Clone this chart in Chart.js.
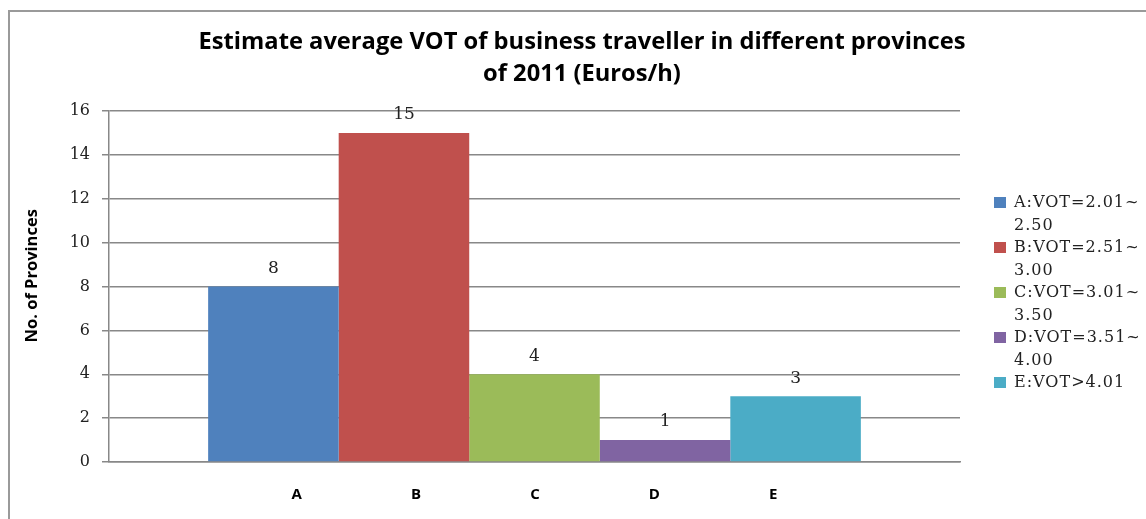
<!DOCTYPE html>
<html>
<head>
<meta charset="utf-8">
<script src="https://cdn.jsdelivr.net/npm/chart.js"></script>
<style>
  html, body { margin: 0; padding: 0; background: #fff; overflow: hidden; }
  #wrap { position: relative; width: 1146px; height: 519px; overflow: hidden; }
  #frame { position: absolute; left: 8px; top: 10px; width: 2000px; height: 1000px; border-left: 2px solid #9a9a9a; border-top: 2px solid #9a9a9a; pointer-events: none; }
  #legend { position: absolute; left: 994px; top: 191px; margin: 0; padding: 0; list-style: none; font: 16px "DejaVu Serif", serif; letter-spacing: 1px; line-height: 22.5px; color: #222; white-space: pre; }
  #legend li { position: relative; padding-left: 20px; }
  #legend span { position: absolute; left: 0; top: 6px; width: 12px; height: 11px; }
</style>
</head>
<body>
<div id="wrap">
  <canvas id="chart" width="1146" height="519"></canvas>
  <ul id="legend"></ul>
  <div id="frame"></div>
</div>
<script>
const categories = ["A", "B", "C", "D", "E"];
const provinces = [8, 15, 4, 1, 3];
const seriesNames = [
  "A:VOT=2.01~\n2.50",
  "B:VOT=2.51~\n3.00",
  "C:VOT=3.01~\n3.50",
  "D:VOT=3.51~\n4.00",
  "E:VOT>4.01"
];
const seriesColors = ["#4f81bd", "#c0504d", "#9bbb59", "#8064a2", "#4bacc6"];
const titleLines = [
  "Estimate average VOT of business traveller in different provinces",
  "of 2011 (Euros/h)"
];
const yTitle = "No. of Provinces";
const yMin = 0;
const yMax = 16;
const yStep = 2;

// excel put all five series in one category, the letters are just spaced out
const xLabel = categories.join(" ".repeat(28));

const datasets = categories.map((c, i) => ({
  label: seriesNames[i],
  data: [provinces[i]],
  backgroundColor: seriesColors[i],
  yAxisID: "y",
  barPercentage: 1,
  categoryPercentage: 0.767
}));

const valueLabels = {
  id: "valueLabels",
  afterDatasetsDraw(chart) {
    const ctx = chart.ctx;
    ctx.save();
    ctx.font = '17px "DejaVu Serif"';
    ctx.fillStyle = "#222";
    ctx.textAlign = "center";
    ctx.textBaseline = "middle";
    chart.data.datasets.forEach((ds, i) => {
      const bar = chart.getDatasetMeta(i).data[0];
      ctx.fillText(ds.data[0], bar.x, bar.y - 18);
    });
    ctx.restore();
  }
};

const chart = new Chart(document.getElementById("chart"), {
  type: "bar",
  data: { labels: [xLabel], datasets: datasets },
  plugins: [valueLabels],
  options: {
    responsive: false,
    animation: false,
    layout: { padding: { left: 18, right: 0, top: 0, bottom: 16 } },
    plugins: {
      legend: { display: false },
      tooltip: { enabled: false },
      title: {
        display: true,
        text: titleLines,
        color: "#000",
        font: { family: "Open Sans", size: 23.7, weight: "bold", lineHeight: 32 / 23.7 },
        padding: { top: 26, bottom: 21 }
      }
    },
    scales: {
      x: {
        grid: { display: false, drawTicks: false },
        border: { color: "#888", width: 1.5 },
        ticks: {
          padding: 24,
          maxRotation: 0,
          color: "#000",
          font: { family: "Open Sans", size: 15, weight: "bold" }
        },
        afterFit(scale) {
          scale.height = 41;
        }
      },
      y: {
        min: yMin,
        max: yMax,
        ticks: {
          stepSize: yStep,
          padding: 12,
          color: "#222",
          font: { family: "DejaVu Serif", size: 16 }
        },
        grid: { color: "#888", lineWidth: 1.5, tickLength: 7 },
        border: { color: "#888", width: 1.5 },
        title: {
          display: true,
          // leading spaces nudge the text up like the original
          text: "     " + yTitle,
          color: "#000",
          font: { family: "Open Sans", size: 16.5, weight: "bold" },
          padding: { top: 4, bottom: 26 }
        },
        afterFit(scale) {
          scale.width = 91;
        }
      },
      pad: {
        type: "linear",
        position: "right",
        grid: { display: false },
        border: { display: false },
        ticks: { display: false },
        afterFit(scale) {
          scale.width = 186;
        }
      }
    }
  }
});

const legend = document.getElementById("legend");
seriesNames.forEach((name, i) => {
  const li = document.createElement("li");
  const box = document.createElement("span");
  box.style.background = seriesColors[i];
  li.appendChild(box);
  li.appendChild(document.createTextNode(name));
  legend.appendChild(li);
});
</script>
</body>
</html>
